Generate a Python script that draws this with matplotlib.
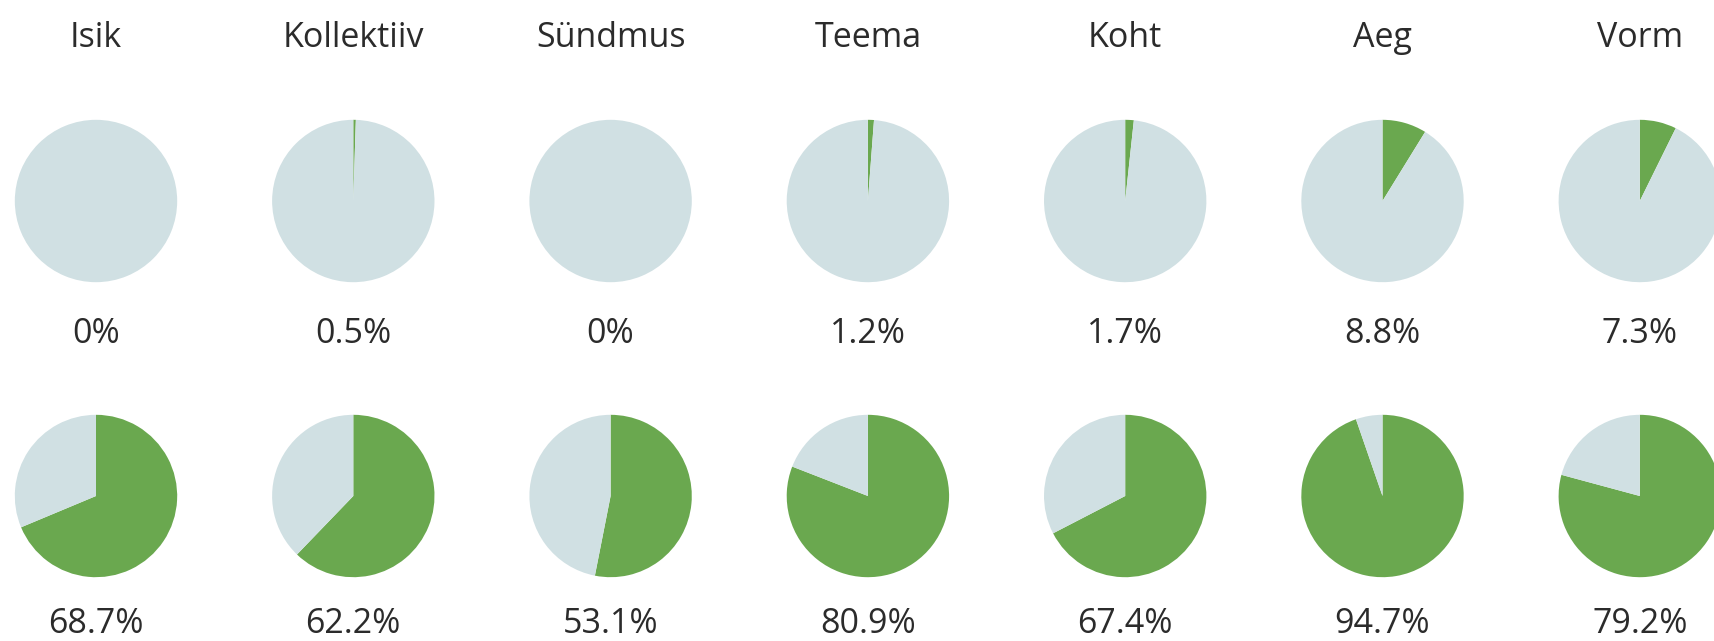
import matplotlib.pyplot as plt

categories = ["Isik", "Kollektiiv", "Sündmus", "Teema", "Koht", "Aeg", "Vorm"]
top_values = [0, 0.5, 0, 1.2, 1.7, 8.8, 7.3]
bottom_values = [68.7, 62.2, 53.1, 80.9, 67.4, 94.7, 79.2]

GREEN = "#6aa84f"
LIGHT = "#d0e0e3"
TEXT = "#2b2b2b"

W, H = 1714, 641
plt.rcParams["font.family"] = ["Open Sans", "DejaVu Sans"]


def draw_pie(fig, value, cx, cy, r):
    ax = fig.add_axes([(cx - r) / W, (H - cy - r) / H, 2 * r / W, 2 * r / H])
    ax.pie([value, 100 - value], colors=[GREEN, LIGHT], startangle=90,
           counterclock=False, radius=1, wedgeprops={"linewidth": 0})
    ax.set_xlim(-1.01, 1.01)
    ax.set_ylim(-1.01, 1.01)
    ax.set_aspect("equal")
    ax.axis("off")


def fmt(v):
    return f"{v:g}%"


def main():
    fig = plt.figure(figsize=(W / 100, H / 100), dpi=100)
    r = 82
    fs = 24.5
    for i, name in enumerate(categories):
        cx = 96 + 257.3 * i
        fig.text(cx / W, 1 - 47 / H, name, ha="center", va="baseline",
                 fontsize=fs, color=TEXT)
        draw_pie(fig, top_values[i], cx, 201, r)
        fig.text(cx / W, 1 - 343 / H, fmt(top_values[i]), ha="center",
                 va="baseline", fontsize=fs, color=TEXT)
        draw_pie(fig, bottom_values[i], cx, 496, r)
        fig.text(cx / W, 1 - 633 / H, fmt(bottom_values[i]), ha="center",
                 va="baseline", fontsize=fs, color=TEXT)

    fig.savefig("out.png", dpi=100, facecolor="white")


if __name__ == "__main__":
    main()
